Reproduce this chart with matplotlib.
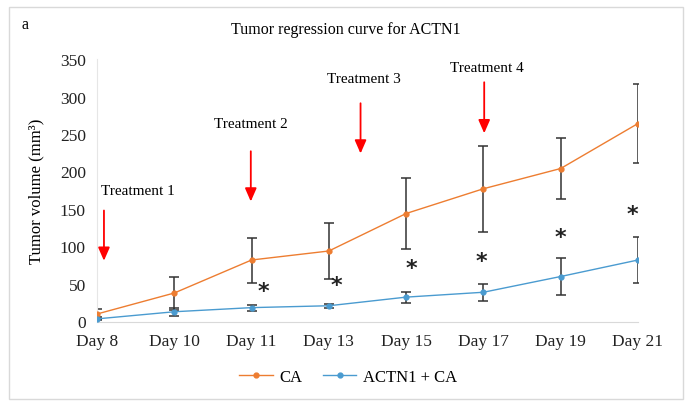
import matplotlib
matplotlib.use("Agg")
import matplotlib.pyplot as plt
from matplotlib.patches import Rectangle

days = ["Day 8", "Day 10", "Day 11", "Day 13", "Day 15", "Day 17", "Day 19", "Day 21"]
ca_mean = [10, 38, 82, 94, 144, 177, 204, 264]
ca_err = [7, 22, 30, 37, 47, 57, 41, 53]
actn_mean = [3.5, 13, 18.5, 21, 32.5, 39, 60, 82]
actn_err = [2, 5, 4, 3, 7.5, 11, 25, 31]

star_x = [2.15, 3.1, 4.07, 4.98, 5.99, 6.93]
star_y = [41, 48.5, 71, 81, 113, 143]

treat_labels = ["Treatment 1", "Treatment 2", "Treatment 3", "Treatment 4"]
treat_x = [0.09, 1.99, 3.41, 5.01]
treat_text_x = [0.53, 1.99, 3.45, 5.05]
treat_text_y = [175, 264, 324, 338]
arrow_top = [148, 227, 291, 319]
arrow_tip = [81, 160, 224, 251]

plt.rcParams['font.family'] = ['Liberation Serif', 'DejaVu Serif']

fig = plt.figure(figsize=(6.91, 4.14), dpi=100)
fig.patches.append(Rectangle((9/691, 14/414), 674/691, 392/414, transform=fig.transFigure,
                             fill=False, edgecolor='#d9d9d9', lw=1.0))
ax = fig.add_axes([97/691, 91.5/414, 541/691, 262.5/414])

x = list(range(len(days)))
ca_c = '#ED7D31'
bl_c = '#4A9BD0'
ax.plot(x, ca_mean, color=ca_c, lw=1.0, marker='o', ms=3.5, label='CA', zorder=3)
ax.plot(x, actn_mean, color=bl_c, lw=1.0, marker='o', ms=3.5, label='ACTN1 + CA', zorder=3)
ax.errorbar(x, ca_mean, yerr=ca_err, fmt='none', ecolor='#333333', elinewidth=1.1,
            capsize=3.3, capthick=1.1, zorder=2)
ax.errorbar(x, actn_mean, yerr=actn_err, fmt='none', ecolor='#333333', elinewidth=1.1,
            capsize=3.3, capthick=1.1, zorder=2)

for sx, sy in zip(star_x, star_y):
    ax.text(sx, sy, '*', fontsize=16, fontweight='bold', ha='center', va='center',
            family=['DejaVu Sans'], color='#222222')

for lab, tx, ttx, tty, a0, a1 in zip(treat_labels, treat_x, treat_text_x, treat_text_y,
                                      arrow_top, arrow_tip):
    ax.text(ttx, tty, lab, fontsize=11, ha='center', va='center')
    ax.annotate('', xy=(tx, a1), xytext=(tx, a0),
                arrowprops=dict(arrowstyle='-|>,head_length=0.8,head_width=0.35',
                                color='#ff0000', lw=1.3, shrinkA=0, shrinkB=0),
                annotation_clip=False)

ax.set_xlim(0, 7)
ax.set_ylim(0, 350)
ax.set_yticks(range(0, 351, 50))
ax.set_xticks(x)
ax.set_xticklabels(days)
ax.tick_params(axis='both', length=0, labelsize=12.5, colors='#222222')
ax.tick_params(axis='x', pad=8)
ax.tick_params(axis='y', pad=8)
for s in ['top', 'right']:
    ax.spines[s].set_visible(False)
ax.spines['left'].set_color('#e6e6e6')
ax.spines['bottom'].set_color('#d9d9d9')
ax.set_ylabel('Tumor volume (mm³)', fontsize=12, labelpad=11)

fig.text(0.5, 0.928, 'Tumor regression curve for ACTN1', ha='center', va='center', fontsize=11.5)
fig.text(25/691, 1 - 25/414, 'a', ha='center', va='center', fontsize=11.5)

fig.legend(loc='center', bbox_to_anchor=(0.504, 0.087), ncol=2, frameon=False,
           fontsize=12, handlelength=2.0, columnspacing=1.25, handletextpad=0.4)

fig.savefig('out.png', dpi=100)
